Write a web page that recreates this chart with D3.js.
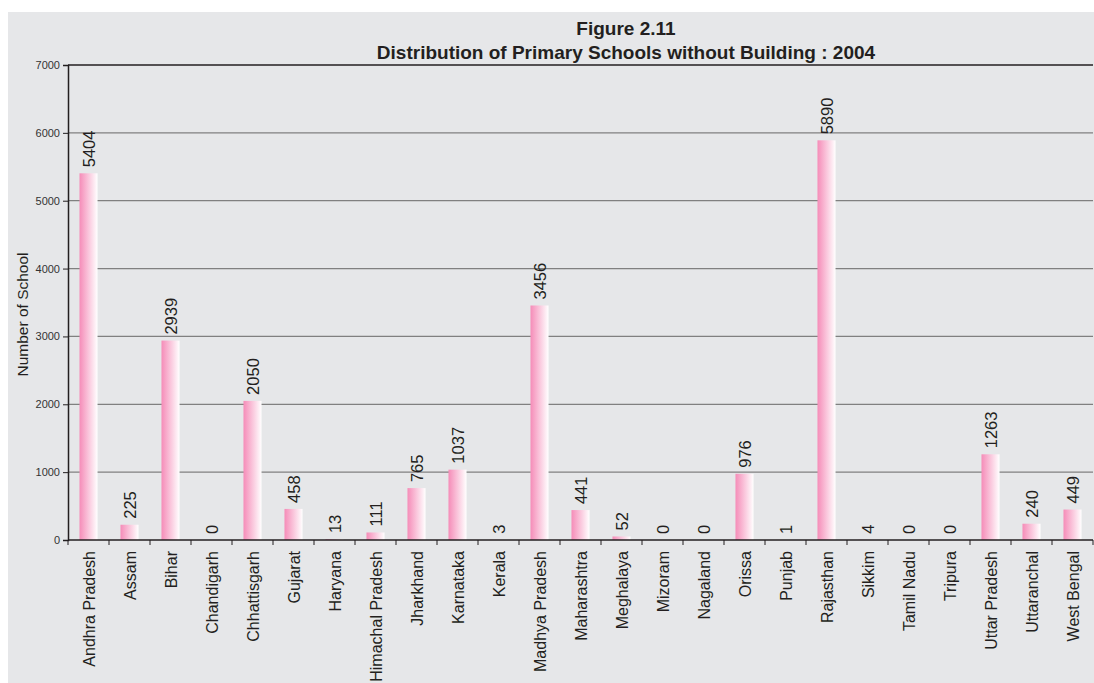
<!DOCTYPE html>
<html>
<head>
<meta charset="utf-8">
<script src="https://cdn.jsdelivr.net/npm/d3@7"></script>
<style>
  html, body { margin: 0; padding: 0; background: #fff; }
  svg { display: block; font-family: "Liberation Sans", Arial, sans-serif; }
</style>
</head>
<body>
<svg id="chart" width="1094" height="683"></svg>
<script>
// datos del gráfico
const states = ["Andhra Pradesh", "Assam", "Bihar", "Chandigarh", "Chhattisgarh", "Gujarat",
  "Haryana", "Himachal Pradesh", "Jharkhand", "Karnataka", "Kerala", "Madhya Pradesh",
  "Maharashtra", "Meghalaya", "Mizoram", "Nagaland", "Orissa", "Punjab", "Rajasthan",
  "Sikkim", "Tamil Nadu", "Tripura", "Uttar Pradesh", "Uttaranchal", "West Bengal"];
const schools = [5404, 225, 2939, 0, 2050, 458, 13, 111, 765, 1037, 3, 3456, 441, 52, 0, 0,
  976, 1, 5890, 4, 0, 0, 1263, 240, 449];
const yTicks = [0, 1000, 2000, 3000, 4000, 5000, 6000, 7000];
const titleLines = ["Figure 2.11", "Distribution of Primary Schools without Building : 2004"];

const svg = d3.select("#chart");
const mLeft = 68, mRight = 1093, mTop = 65, mBottom = 540;

// fondo gris
svg.append("rect")
  .attr("x", 8).attr("y", 12).attr("width", 1086).attr("height", 671)
  .attr("fill", "#e6e7e9");

// degradado rosa -> blanco
const grad = svg.append("defs").append("linearGradient")
  .attr("id", "pink").attr("x1", "0%").attr("x2", "100%").attr("y1", "0%").attr("y2", "0%");
grad.append("stop").attr("offset", "0%").attr("stop-color", "#f58cb8");
grad.append("stop").attr("offset", "100%").attr("stop-color", "#ffffff");

const x = d3.scaleBand().domain(states).range([mLeft, mRight]).paddingInner(0.56).paddingOuter(0.28);
const y = d3.scaleLinear().domain([0, 7000]).range([mBottom, mTop]);

// líneas de rejilla
svg.append("g")
  .selectAll("line")
  .data(yTicks.filter(t => t > 0))
  .join("line")
  .attr("x1", mLeft).attr("x2", mRight)
  .attr("y1", d => y(d)).attr("y2", d => y(d))
  .attr("stroke", d => d === 7000 ? "#231f20" : "#808080")
  .attr("stroke-width", d => d === 7000 ? 1.6 : 1.3);

// barras
svg.append("g")
  .selectAll("rect")
  .data(schools)
  .join("rect")
  .attr("x", (d, i) => x(states[i]))
  .attr("width", x.bandwidth())
  .attr("y", d => y(d))
  .attr("height", d => mBottom - y(d))
  .attr("fill", "url(#pink)");

// etiquetas de valor
svg.append("g")
  .selectAll("text")
  .data(schools)
  .join("text")
  .attr("transform", (d, i) => `translate(${x(states[i]) + x.bandwidth() / 2 + 6},${y(d) - 6}) rotate(-90)`)
  .attr("font-size", "16.5px")
  .attr("fill", "#231f20")
  .text(d => d);

// eje Y
const yAxis = svg.append("g")
  .attr("transform", `translate(${mLeft},0)`)
  .call(d3.axisLeft(y).tickValues(yTicks).tickFormat(d3.format("d")).tickSize(5).tickPadding(3));
yAxis.select(".domain").attr("stroke", "#231f20").attr("stroke-width", 1.5);
yAxis.selectAll(".tick line").attr("stroke", "#231f20");
yAxis.selectAll(".tick text").attr("font-size", "11px").attr("fill", "#333")
  .attr("font-family", "Liberation Sans, Arial, sans-serif");

// eje X
const xStep = (mRight - mLeft) / states.length;
const xAxis = svg.append("g")
  .attr("transform", `translate(0,${mBottom})`);
xAxis.append("line")
  .attr("x1", mLeft).attr("x2", mRight)
  .attr("stroke", "#231f20").attr("stroke-width", 1.5);
xAxis.selectAll("line.tk")
  .data(d3.range(states.length + 1))
  .join("line")
  .attr("class", "tk")
  .attr("x1", i => mLeft + i * xStep).attr("x2", i => mLeft + i * xStep)
  .attr("y1", 0).attr("y2", 5)
  .attr("stroke", "#231f20");
xAxis.selectAll("text")
  .data(states)
  .join("text")
  .attr("transform", d => `translate(${x(d) + x.bandwidth() / 2 + 6},11) rotate(-90)`)
  .attr("text-anchor", "end")
  .attr("font-size", "16px")
  .attr("fill", "#231f20")
  .text(d => d);

// título del eje Y
svg.append("text")
  .attr("transform", `translate(28,${(mTop + mBottom) / 2 + 12}) rotate(-90)`)
  .attr("text-anchor", "middle")
  .attr("font-size", "15.5px")
  .attr("fill", "#231f20")
  .text("Number of School");

// título
svg.append("g")
  .selectAll("text")
  .data(titleLines)
  .join("text")
  .attr("x", 626)
  .attr("y", (d, i) => 35 + i * 24)
  .attr("text-anchor", "middle")
  .attr("font-size", "19px")
  .attr("font-weight", "bold")
  .attr("fill", "#231f20")
  .text(d => d);
</script>
</body>
</html>
